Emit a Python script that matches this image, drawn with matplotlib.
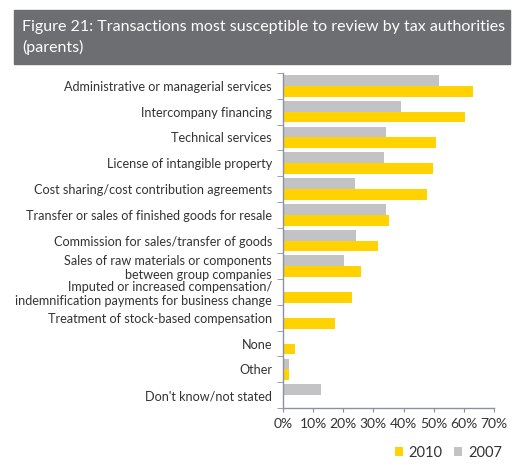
import matplotlib
matplotlib.use("Agg")
import matplotlib.pyplot as plt
import numpy as np
from matplotlib.patches import Rectangle

plt.rcParams['font.family'] = ['Lato', 'DejaVu Sans']

# Categories, top to bottom
categories = [
    "Administrative or managerial services",
    "Intercompany financing",
    "Technical services",
    "License of intangible property",
    "Cost sharing/cost contribution agreements",
    "Transfer or sales of finished goods for resale",
    "Commission for sales/transfer of goods",
    "Sales of raw materials or components\nbetween group companies",
    "Imputed or increased compensation/\nindemnification payments for business change",
    "Treatment of stock-based compensation",
    "None",
    "Other",
    "Don't know/not stated",
]

# Percent values
values_2010 = [63, 60.4, 50.7, 49.7, 47.7, 35.1, 31.4, 25.8, 22.8, 17.2, 3.9, 1.9, 0]
values_2007 = [51.7, 39.1, 34.1, 33.4, 23.8, 34.1, 24.1, 20.1, 0, 0, 0, 1.9, 12.5]

xticks = [0, 10, 20, 30, 40, 50, 60, 70]

yellow = "#FFD200"
grey = "#C3C3C5"
spine_col = "#8C90A0"
text_col = "#333333"

fig = plt.figure(figsize=(5.28, 4.71), dpi=100)

# title banner
fig.patches.append(Rectangle((14 / 528, 1 - 64 / 471), 496 / 528, 54 / 471,
                             transform=fig.transFigure, color="#6D6E71", zorder=0))
fig.text(22 / 528, 1 - 27 / 471, "Figure 21: Transactions most susceptible to review by tax authorities",
         color="white", fontsize=11.5, va="center", ha="left")
fig.text(22 / 528, 1 - 47 / 471, "(parents)",
         color="white", fontsize=11.5, va="center", ha="left")

ax = fig.add_axes([283 / 528, 1 - 408 / 471, 211 / 528, 335 / 471])

y = np.arange(len(categories))
h = 0.42
ax.barh(y - h / 2, values_2007, height=h, color=grey, label="2007")
ax.barh(y + h / 2, values_2010, height=h, color=yellow, label="2010")

ax.set_ylim(len(categories) - 0.5, -0.5)
ax.set_xlim(0, 70)
ax.set_yticks(y)
ax.set_yticklabels(categories, fontsize=9.1, color=text_col, ha="right", linespacing=1.2)
ax.set_yticks(np.arange(len(categories) + 1) - 0.5, minor=True)
ax.tick_params(axis="y", which="major", length=0, pad=8)
ax.tick_params(axis="y", which="minor", length=4, color=spine_col, direction="out")
ax.set_xticks(xticks)
ax.set_xticklabels([f"{t}%" for t in xticks], fontsize=10, color=text_col)
ax.tick_params(axis="x", length=3, color=spine_col, pad=4)

for s in ["top", "right"]:
    ax.spines[s].set_visible(False)
for s in ["left", "bottom"]:
    ax.spines[s].set_color(spine_col)
    ax.spines[s].set_linewidth(1)

handles, labels = ax.get_legend_handles_labels()
fig.legend(handles[::-1], labels[::-1], loc="center right",
           bbox_to_anchor=(502 / 528, 1 - 453 / 471), ncol=2, frameon=False,
           fontsize=10.5, handlelength=0.55, handleheight=0.55, handletextpad=0.4,
           columnspacing=0.8, borderpad=0, borderaxespad=0, labelcolor=text_col)

fig.savefig("out.png", dpi=100)
